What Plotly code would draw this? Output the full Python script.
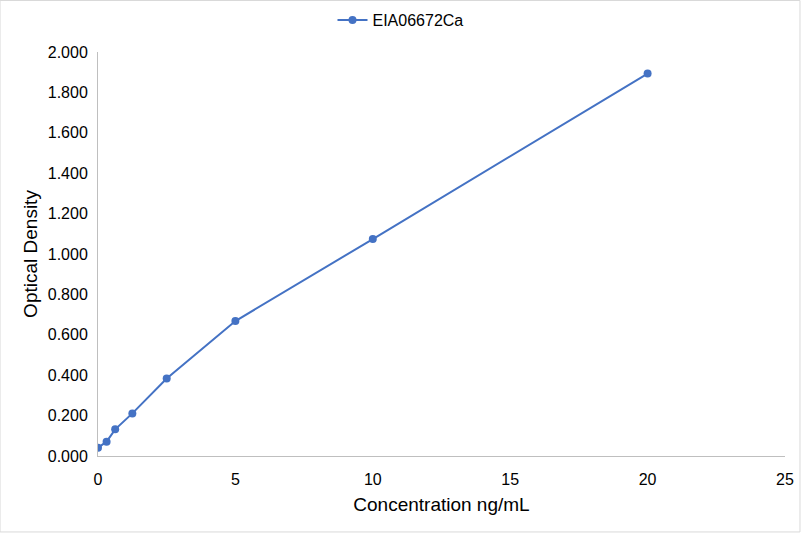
import plotly.graph_objects as go

# standard curve data
concentration = [0, 0.3125, 0.625, 1.25, 2.5, 5, 10, 20]
optical_density = [0.041, 0.071, 0.132, 0.211, 0.384, 0.668, 1.074, 1.893]

x_ticks = [0, 5, 10, 15, 20, 25]
y_ticks = [0, 0.2, 0.4, 0.6, 0.8, 1.0, 1.2, 1.4, 1.6, 1.8, 2.0]

fig = go.Figure()
fig.add_trace(go.Scatter(x=concentration, y=optical_density, mode='lines+markers',
                         name='EIA06672Ca',
                         line=dict(color='#4472C4', width=2),
                         marker=dict(color='#4472C4', size=8)))

fig.update_layout(
    width=801, height=533,
    margin=dict(l=98, r=16, t=52, b=77, autoexpand=False),
    paper_bgcolor='white', plot_bgcolor='white',
    font=dict(family='Liberation Sans, Arial', size=16, color='#000000'),
    showlegend=True,
    legend=dict(orientation='h', x=0.5, xanchor='center', xref='container',
                y=1 - 20 / 533, yanchor='middle', yref='container',
                font=dict(size=16)),
    shapes=[dict(type='rect', xref='paper', yref='paper',
                 x0=-0.1426, x1=1.0218, y0=-0.188, y1=1.1275,
                 line=dict(color='#D9D9D9', width=1))],
)

fig.update_xaxes(range=[0, 25], tickvals=x_ticks, showgrid=False, zeroline=False,
                 showline=True, linecolor='#BFBFBF', linewidth=1, ticks='',
                 ticklabelstandoff=9,
                 title=dict(text='Concentration ng/mL', standoff=10))
fig.update_yaxes(range=[0, 2.0], tickvals=y_ticks, tickformat='.3f', showgrid=False,
                 zeroline=False, showline=True, linecolor='#BFBFBF', linewidth=1,
                 ticks='', ticklabelstandoff=6,
                 title=dict(text='Optical Density', standoff=5))

fig.write_html("out.html", config={'displayModeBar': False},
               post_script="document.body.style.margin='0';")
